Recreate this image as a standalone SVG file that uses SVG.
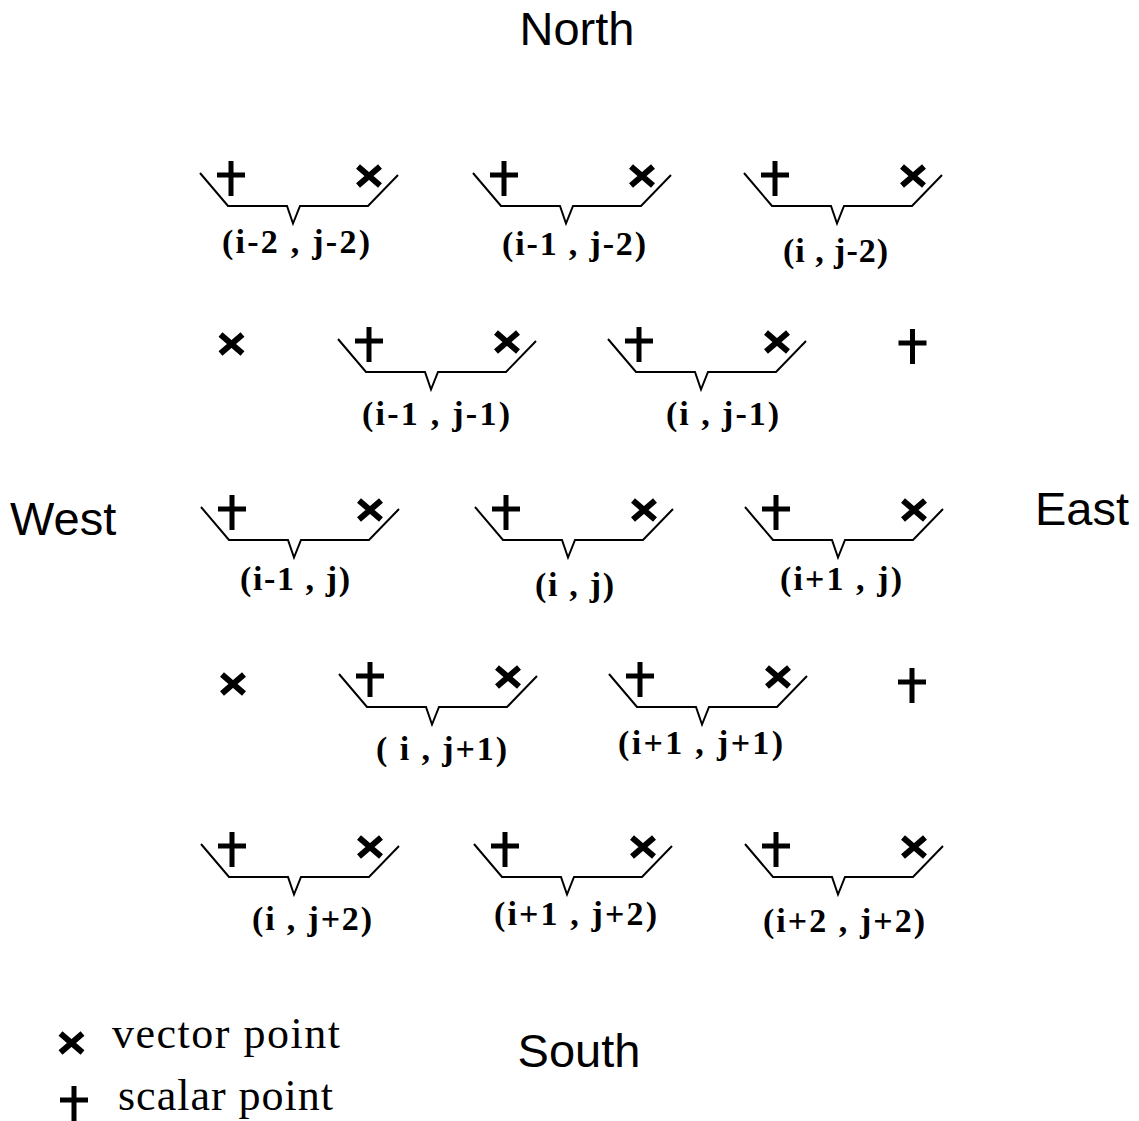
<svg xmlns="http://www.w3.org/2000/svg" xmlns:xlink="http://www.w3.org/1999/xlink" width="1139" height="1121" viewBox="0 0 1139 1121">
<style>
.br{fill:none;stroke:#000;stroke-width:2;stroke-linejoin:miter}
.mk{fill:none;stroke:#000;stroke-width:5}
.mx{fill:none;stroke:#000;stroke-width:6}
.lab{font-family:"Liberation Serif","Times New Roman",serif;font-weight:bold;font-size:34px;fill:#000}
.dir{font-family:"Liberation Sans",Arial,sans-serif;font-size:47px;fill:#000}
.leg{font-family:"Liberation Serif","Times New Roman",serif;font-size:44px;fill:#000}
</style>
<defs>
<path id="plus" class="mk" d="M0,-14V21M-14,0H14"/>
<path id="cross" class="mx" d="M-11,-9.5L11,9.5M11,-9.5L-11,9.5"/>
<g id="cell">
<path class="br" d="M0,-33L28,0L87,0L93,17.5L100,0L168,0L198,-31"/>
<use xlink:href="#plus" x="31" y="-31"/>
<use xlink:href="#cross" x="169" y="-30"/>
</g>
</defs>
<rect width="1139" height="1121" fill="#fff"/>
<g id="compass">
<text class="dir" x="577" y="45" text-anchor="middle">North</text>
<text class="dir" x="10" y="535">West</text>
<text class="dir" x="1035" y="525">East</text>
<text class="dir" x="579" y="1067" text-anchor="middle">South</text>
</g>
<g id="connectors"></g>
<g id="n-im2-jm2"><use xlink:href="#cell" x="200" y="206"/><text class="lab" x="222" y="253" textLength="148" lengthAdjust="spacing">(i-2 , j-2)</text></g>
<g id="n-im1-jm2"><use xlink:href="#cell" x="473" y="206"/><text class="lab" x="502" y="255" textLength="144" lengthAdjust="spacing">(i-1 , j-2)</text></g>
<g id="n-i-jm2"><use xlink:href="#cell" x="744" y="206"/><text class="lab" x="783" y="262" textLength="105" lengthAdjust="spacing">(i , j-2)</text></g>
<g id="v-row2"><use xlink:href="#cross" x="231.5" y="344"/></g>
<g id="n-im1-jm1"><use xlink:href="#cell" x="338" y="372"/><text class="lab" x="362" y="425" textLength="148" lengthAdjust="spacing">(i-1 , j-1)</text></g>
<g id="n-i-jm1"><use xlink:href="#cell" x="608" y="372"/><text class="lab" x="666" y="425" textLength="113" lengthAdjust="spacing">(i , j-1)</text></g>
<g id="s-row2"><use xlink:href="#plus" x="912.5" y="343"/></g>
<g id="n-im1-j"><use xlink:href="#cell" x="201" y="540"/><text class="lab" x="240" y="590" textLength="110" lengthAdjust="spacing">(i-1 , j)</text></g>
<g id="n-i-j"><use xlink:href="#cell" x="475" y="540"/><text class="lab" x="535" y="596" textLength="79" lengthAdjust="spacing">(i , j)</text></g>
<g id="n-ip1-j"><use xlink:href="#cell" x="745" y="540"/><text class="lab" x="780" y="590" textLength="122" lengthAdjust="spacing">(i+1 , j)</text></g>
<g id="v-row4"><use xlink:href="#cross" x="233" y="684"/></g>
<g id="n-i-jp1"><use xlink:href="#cell" x="339" y="707"/><text class="lab" x="376" y="760" textLength="131" lengthAdjust="spacing">( i , j+1)</text></g>
<g id="n-ip1-jp1"><use xlink:href="#cell" x="609" y="707"/><text class="lab" x="618" y="754" textLength="165" lengthAdjust="spacing">(i+1 , j+1)</text></g>
<g id="s-row4"><use xlink:href="#plus" x="912" y="682"/></g>
<g id="n-i-jp2"><use xlink:href="#cell" x="201" y="877"/><text class="lab" x="252" y="930" textLength="120" lengthAdjust="spacing">(i , j+2)</text></g>
<g id="n-ip1-jp2"><use xlink:href="#cell" x="474" y="877"/><text class="lab" x="494" y="925" textLength="163" lengthAdjust="spacing">(i+1 , j+2)</text></g>
<g id="n-ip2-jp2"><use xlink:href="#cell" x="745" y="877"/><text class="lab" x="763" y="932" textLength="162" lengthAdjust="spacing">(i+2 , j+2)</text></g>
<g id="legend">
<use xlink:href="#cross" x="71.5" y="1043"/>
<text class="leg" x="112" y="1048" textLength="228" lengthAdjust="spacing">vector point</text>
<use xlink:href="#plus" x="74" y="1100"/>
<text class="leg" x="118" y="1110" textLength="215" lengthAdjust="spacing">scalar point</text>
</g>
</svg>
